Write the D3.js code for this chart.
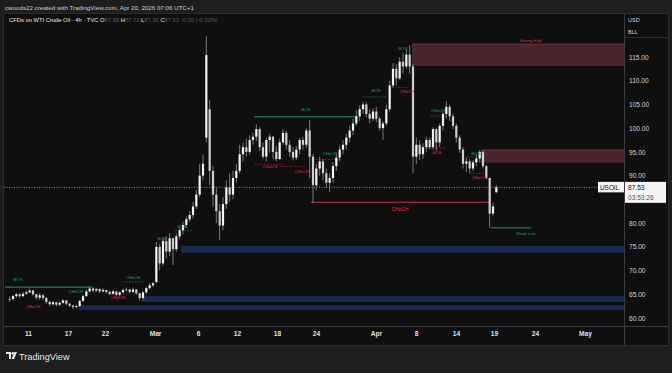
<!DOCTYPE html>
<html>
<head>
<meta charset="utf-8">
<script src="https://cdn.jsdelivr.net/npm/d3@7"></script>
<style>
  html, body { margin: 0; padding: 0; background: #1e1e1e; }
  svg { display: block; font-family: "Liberation Sans", Arial, sans-serif; }
</style>
</head>
<body>
<svg id="chart" width="672" height="373"></svg>
<script>
// time axis: position in trading days from Feb 9
const tickLabels = ['11', '17', '22', 'Mar', '6', '12', '18', '24', 'Apr', '8', '14', '19', '24', 'May'];
const tickDays = [2, 6, 9.7, 14.7, 19, 22.9, 26.9, 30.8, 36.8, 40.8, 44.8, 48.6, 52.7, 57.7];
const priceTicks = [60, 65, 70, 75, 80, 85, 90, 95, 100, 105, 110, 115];

// [open, high, low, close], three candles per trading day
const candles = [
  [63.9,64.6,63.4,64.0],[64.0,64.9,63.7,64.6],[64.6,65.3,64.3,65.0],[65.0,65.2,64.2,64.6],
  [64.6,65.5,64.4,65.1],[65.1,65.8,64.9,65.4],[65.4,66.2,65.2,65.8],[65.8,65.9,64.7,65.0],
  [65.0,65.1,63.9,64.3],[64.3,65.2,63.8,64.8],[64.8,65.0,63.9,64.2],[64.2,64.4,63.0,63.4],
  [63.4,63.6,62.5,62.9],[62.9,63.6,62.6,63.3],[63.3,63.4,62.4,62.8],[62.8,63.5,62.6,63.2],
  [63.2,64.0,63.0,63.7],[63.7,63.8,62.7,63.0],[63.0,63.2,62.3,62.6],[62.6,62.8,61.9,62.3],
  [62.3,62.8,62.0,62.5],[62.5,63.8,62.4,63.6],[63.6,64.9,63.4,64.6],[64.6,66.0,64.5,65.6],
  [65.6,66.6,65.4,66.2],[66.2,66.5,65.4,65.8],[65.8,66.4,65.5,66.1],[66.1,66.2,65.3,65.6],
  [65.6,66.3,65.4,65.9],[65.9,66.0,65.1,65.5],[65.5,65.7,64.8,65.1],[65.1,65.9,64.9,65.6],
  [65.6,65.7,64.6,64.9],[64.9,65.6,64.5,65.4],[65.4,66.2,65.2,65.9],[65.9,66.4,65.5,66.0],
  [66.0,66.1,65.1,65.5],[65.5,66.4,65.3,66.0],[66.0,66.1,64.9,65.2],[65.2,65.3,63.7,64.2],
  [64.2,65.7,63.9,65.4],[65.4,66.6,65.1,66.3],[66.3,67.4,66.0,66.9],[66.9,67.6,66.5,67.3],
  [67.6,76.0,67.4,75.0],[75.0,75.6,70.1,71.5],[71.5,76.9,71.0,76.2],[76.2,77.2,72.5,74.0],
  [74.0,77.9,73.0,76.8],[76.8,77.0,71.2,74.5],[74.5,77.8,74.0,77.2],[77.2,79.0,76.5,78.5],
  [78.5,80.3,77.6,79.6],[79.6,81.4,79.0,80.8],[80.8,82.5,80.3,81.7],[81.7,84.5,81.0,83.5],
  [83.5,87.0,83.0,86.0],[86.0,92.5,85.5,90.0],[90.0,94.5,89.0,92.5],[98.0,119.4,97.0,115.4],
  [104.0,106.0,88.0,91.0],[91.0,92.0,83.5,86.0],[86.0,87.5,80.0,82.5],[82.5,84.0,76.4,79.5],
  [79.5,85.5,78.5,84.0],[84.0,89.0,83.0,87.5],[87.5,90.5,84.5,86.0],[86.0,91.0,85.0,89.5],
  [89.5,92.5,88.5,91.0],[91.0,96.5,90.5,94.5],[94.5,97.0,93.0,96.0],[96.0,97.8,94.0,95.0],
  [95.0,98.5,94.5,97.5],[97.5,99.0,96.5,98.2],[98.2,100.8,97.3,99.8],[99.8,100.2,95.2,96.0],
  [96.0,97.0,93.5,94.0],[94.0,98.0,93.0,97.5],[97.5,98.8,94.8,98.2],[98.2,98.4,93.5,95.0],
  [95.0,96.2,93.0,93.5],[93.5,97.8,93.3,97.0],[97.0,99.8,96.5,99.0],[99.0,99.5,95.5,96.5],
  [96.5,97.5,94.0,95.0],[95.0,96.0,93.2,93.8],[93.8,96.3,93.3,95.5],[95.5,98.0,94.5,97.5],
  [97.5,98.2,95.5,96.5],[96.5,100.0,95.8,99.5],[99.5,101.7,89.5,94.0],[94.0,94.5,84.2,88.0],
  [88.0,92.5,87.0,91.5],[91.5,94.0,90.0,93.0],[93.0,93.5,89.0,90.5],[90.5,91.5,87.5,88.5],
  [88.5,90.5,86.6,89.5],[89.5,92.8,88.5,92.0],[92.0,94.5,91.0,93.8],[93.8,96.3,93.0,95.5],
  [95.5,97.5,94.5,96.5],[96.5,98.8,95.5,98.0],[98.0,100.5,97.0,99.5],[99.5,102.0,98.5,101.0],
  [101.0,103.8,100.5,102.5],[102.5,104.8,101.5,104.0],[104.0,105.6,103.0,105.0],[105.0,105.5,102.3,103.0],
  [103.0,104.0,101.0,102.0],[102.0,104.2,101.5,103.5],[103.5,104.5,101.2,102.0],[102.0,102.5,99.5,100.0],
  [100.0,101.5,97.5,101.0],[101.0,105.0,100.5,104.0],[104.0,110.0,103.5,109.0],[109.0,113.7,108.5,112.5],
  [112.5,113.5,109.0,110.5],[110.5,115.0,110.2,114.0],[114.0,115.8,111.5,113.0],[113.0,116.5,112.5,115.5],
  [115.5,117.5,111.5,113.0],[113.0,113.5,90.5,94.0],[94.0,98.0,92.5,96.5],[96.5,97.5,93.3,94.5],
  [94.5,96.8,93.5,96.0],[96.0,98.2,95.0,97.5],[97.5,98.0,95.5,96.0],[96.0,100.2,95.5,99.8],
  [99.8,100.0,95.2,97.0],[97.0,101.0,96.0,100.5],[100.5,103.5,99.5,103.0],[103.0,105.7,102.0,104.5],
  [104.5,105.0,101.5,102.5],[102.5,103.0,99.8,100.5],[100.5,101.0,97.0,98.0],[98.0,98.5,94.8,95.5],
  [95.5,96.0,91.5,92.5],[92.5,93.8,90.8,93.0],[93.0,93.5,90.5,91.5],[91.5,93.2,91.0,92.8],
  [92.8,94.5,92.0,93.6],[93.6,95.4,92.8,95.0],[95.0,95.2,91.5,92.0],[92.0,92.3,89.2,89.5],
  [89.5,89.6,79.0,82.0],[82.0,84.3,81.5,83.5],[86.5,88.0,86.4,87.53]
];
const lastPrice = 87.53;

// order blocks: [start day, top, bottom]
const supplyZones = [[40.4, 117.7, 113.1], [47.3, 95.4, 92.7]];
const demandZones = [[7.1, 62.7, 61.7], [13.4, 64.6, 63.4], [17.3, 75.2, 73.7]];

// structure lines: [from day, to day, price, kind, dashed]
const structLines = [
  [-0.3, 8.4, 66.5, 'bull', false],
  [24.6, 34.9, 102.4, 'bull', false],
  [30.3, 48.1, 84.4, 'bear', false],
  [48.3, 52.3, 79.0, 'bull', false],
  [35.5, 37.8, 106.6, 'bull', true],
  [30.5, 33.3, 93.4, 'bull', true],
  [27.2, 29.7, 91.9, 'bear', true],
  [24.7, 27.7, 92.4, 'bear', true],
  [42.2, 44.0, 102.6, 'bull', true],
  [41.7, 43.7, 95.8, 'bear', true],
  [45.9, 47.3, 93.9, 'bull', true],
  [46.2, 48.0, 90.5, 'bear', true],
  [38.7, 40.2, 108.6, 'bear', true],
  [14.8, 16.4, 75.8, 'bull', true],
  [16.7, 18.4, 78.4, 'bull', true],
  [11.5, 13.6, 67.6, 'bull', true],
  [10.0, 12.0, 65.0, 'bear', true]
];

// labels: [day, price, text, kind]
const labels = [
  [1.0, 68.0, 'BOS', 'bull'], [2.5, 62.3, 'CHoCH', 'bear'], [6.8, 65.5, 'CHoCH', 'bull'],
  [12.5, 68.4, 'CHoCH', 'bull'], [11.0, 64.2, 'CHoCH', 'bear'], [15.4, 76.6, 'BOS', 'bull'],
  [17.4, 79.2, 'BOS', 'bull'], [29.8, 103.8, 'BOS', 'bull'], [26.2, 91.8, 'CHoCH', 'bear'],
  [29.4, 90.8, 'CHoCH', 'bear'], [32.2, 94.6, 'CHoCH', 'bull'], [36.8, 107.8, 'BOS', 'bull'],
  [39.5, 116.8, 'BOS', 'bull'], [39.9, 107.6, 'CHoCH', 'bear'], [43.0, 103.6, 'CHoCH', 'bull'],
  [42.9, 94.8, 'BOS', 'bear'], [46.8, 94.6, 'BOS', 'bull'], [47.1, 89.5, 'CHoCH', 'bear'],
  [39.2, 82.9, 'CHoCH', 'bear'], [52.3, 118.5, 'Strong High', 'bear'], [51.8, 77.7, 'Weak Low', 'bull']
];

const colors = { bull: '#1f9f86', bear: '#d8344a' };

const svg = d3.select('#chart');

// header
svg.append('text')
   .attr('x', 5).attr('y', 10)
   .attr('font-size', 6.2).attr('fill', '#cfcfcf')
   .text('cwoods22 created with TradingView.com, Apr 20, 2026 07:06 UTC+1');

// panel
svg.append('rect')
   .attr('x', 3.5).attr('y', 13.5).attr('width', 665).attr('height', 332)
   .attr('fill', '#0f0f0f').attr('stroke', '#2c2c2c');

const x = d3.scaleLinear().domain([-0.4, 61.6]).range([4, 624]);
const y = d3.scaleLinear().domain([60, 115]).range([318, 57]);

const plot = svg.append('g');
svg.append('clipPath').attr('id', 'plotclip')
   .append('rect').attr('x', 4).attr('y', 14).attr('width', 620).attr('height', 312);
plot.attr('clip-path', 'url(#plotclip)');

// zones
plot.selectAll('rect.supply')
    .data(supplyZones)
    .enter()
    .append('rect')
    .attr('class', 'supply')
    .attr('x', d => x(d[0]))
    .attr('y', d => y(d[1]))
    .attr('width', d => x(61.6) - x(d[0]))
    .attr('height', d => y(d[2]) - y(d[1]))
    .attr('fill', '#48252c');
plot.selectAll('line.supplyTop')
    .data(supplyZones)
    .enter()
    .append('line')
    .attr('x1', d => x(d[0])).attr('x2', x(61.6))
    .attr('y1', d => y(d[1])).attr('y2', d => y(d[1]))
    .attr('stroke', '#8e3a48').attr('stroke-width', 0.8);

plot.selectAll('rect.demand')
    .data(demandZones)
    .enter()
    .append('rect')
    .attr('class', 'demand')
    .attr('x', d => x(d[0]))
    .attr('y', d => y(d[1]))
    .attr('width', d => x(61.6) - x(d[0]))
    .attr('height', d => y(d[2]) - y(d[1]))
    .attr('fill', '#1b2c4a');

// structure lines
plot.selectAll('line.struct')
    .data(structLines)
    .enter()
    .append('line')
    .attr('x1', d => x(d[0])).attr('x2', d => x(d[1]))
    .attr('y1', d => y(d[2])).attr('y2', d => y(d[2]))
    .attr('stroke', d => colors[d[3]])
    .attr('stroke-width', d => d[4] ? 0.7 : 1)
    .attr('stroke-dasharray', d => d[4] ? '1.5,1.5' : null)
    .attr('opacity', d => d[4] ? 0.8 : 0.9);

// current price line
plot.append('line')
    .attr('x1', 4).attr('x2', 624)
    .attr('y1', y(lastPrice)).attr('y2', y(lastPrice))
    .attr('stroke', '#a8a8a8').attr('stroke-width', 0.8)
    .attr('stroke-dasharray', '1,1.5');

// candles
const cx = i => x(i / 3 + 1 / 6);
const cg = plot.append('g');
cg.selectAll('line.wick')
  .data(candles)
  .enter()
  .append('line')
  .attr('x1', (d, i) => cx(i)).attr('x2', (d, i) => cx(i))
  .attr('y1', d => y(d[1])).attr('y2', d => y(d[2]))
  .attr('stroke', '#a8a8a8').attr('stroke-width', 0.7);
cg.selectAll('rect.body')
  .data(candles)
  .enter()
  .append('rect')
  .attr('x', (d, i) => cx(i) - 1.1)
  .attr('width', 2.2)
  .attr('y', d => y(Math.max(d[0], d[3])))
  .attr('height', d => Math.max(0.6, Math.abs(y(d[0]) - y(d[3]))))
  .attr('fill', d => d[3] >= d[0] ? '#f4f4f4' : '#cfcfcf');

// labels
plot.selectAll('text.lbl')
    .data(labels)
    .enter()
    .append('text')
    .attr('x', d => x(d[0]))
    .attr('y', d => y(d[1]))
    .attr('text-anchor', 'middle')
    .attr('dominant-baseline', 'middle')
    .attr('font-size', d => d[2] === 'CHoCH' && d[0] === 39.2 ? 5 : 4.2)
    .attr('fill', d => colors[d[3]])
    .text(d => d[2]);

// price axis
svg.append('line').attr('x1', 624.5).attr('x2', 624.5).attr('y1', 14).attr('y2', 345)
   .attr('stroke', '#3a3a3a');
svg.append('line').attr('x1', 4).attr('x2', 668).attr('y1', 326.5).attr('y2', 326.5)
   .attr('stroke', '#3a3a3a');
svg.append('line').attr('x1', 625).attr('x2', 668).attr('y1', 37.5).attr('y2', 37.5)
   .attr('stroke', '#2c2c2c');
svg.append('text').attr('x', 628).attr('y', 22).attr('font-size', 5.5).attr('fill', '#d0d0d0').text('USD');
svg.append('text').attr('x', 628).attr('y', 34).attr('font-size', 5.5).attr('fill', '#d0d0d0').text('BLL');

// ticks hidden behind the last-price tag are not drawn
const yAxis = d3.axisRight(y)
   .tickValues(priceTicks.filter(v => Math.abs(y(v) - y(lastPrice)) > 8 && y(v) - y(lastPrice) < -8 || y(v) - y(lastPrice) > 20))
   .tickFormat(d3.format('.2f'))
   .tickSize(0)
   .tickPadding(5);
const ya = svg.append('g')
   .attr('transform', 'translate(624,0)')
   .call(yAxis);
ya.select('.domain').remove();
ya.selectAll('text').attr('font-size', 6.6).attr('fill', '#d4d4d4')
  .attr('font-family', '"Liberation Sans", Arial, sans-serif');

// x axis
const xAxis = d3.axisBottom(x)
   .tickValues(tickDays)
   .tickFormat((d, i) => tickLabels[i])
   .tickSize(0)
   .tickPadding(5);
const xa = svg.append('g')
   .attr('transform', 'translate(0,326)')
   .call(xAxis);
xa.select('.domain').remove();
xa.selectAll('text').attr('font-size', 6.6).attr('fill', '#e0e0e0').attr('font-weight', 'bold')
  .attr('font-family', '"Liberation Sans", Arial, sans-serif');

// symbol + last price tags
const py = y(lastPrice);
svg.append('rect').attr('x', 598).attr('y', py - 5.5).attr('width', 26).attr('height', 10.5)
   .attr('fill', '#f4f4f4');
svg.append('text').attr('x', 600).attr('y', py + 2.2).attr('font-size', 6.4).attr('fill', '#111')
   .text('USOIL');
svg.append('rect').attr('x', 625).attr('y', py - 5.5).attr('width', 41).attr('height', 21)
   .attr('fill', '#f4f4f4');
svg.append('text').attr('x', 628).attr('y', py + 2.4).attr('font-size', 6.6).attr('fill', '#111')
   .text(d3.format('.2f')(lastPrice));
svg.append('text').attr('x', 628).attr('y', py + 12.5).attr('font-size', 6.6).attr('fill', '#555')
   .text('03:53:26');

// legend line
const leg = svg.append('text').attr('x', 9).attr('y', 22).attr('font-size', 5.8).attr('fill', '#e6e6e6');
leg.append('tspan').text('CFDs on WTI Crude Oil · 4h · TVC  ');
[['O', '87.58'], ['H', '87.72'], ['L', '87.35'], ['C', '87.53']].forEach(p => {
  leg.append('tspan').attr('fill', '#e6e6e6').text(p[0]);
  leg.append('tspan').attr('fill', '#5a5a5a').text(p[1] + ' ');
});
leg.append('tspan').attr('fill', '#5a5a5a').text('-0.00 (-0.00%)');

// footer logo
const logo = svg.append('g').attr('transform', 'translate(6,352)').attr('fill', '#e8e8e8');
logo.append('path').attr('d', 'M0,0 H5 V7 H3 V2 H0 Z');
logo.append('circle').attr('cx', 6.8).attr('cy', 1.4).attr('r', 1.3);
logo.append('path').attr('d', 'M8.6,0 H11 L8,7 H5.6 Z');
svg.append('text').attr('x', 19).attr('y', 359.5).attr('font-size', 9.2).attr('fill', '#e8e8e8')
   .text('TradingView');
</script>
</body>
</html>
